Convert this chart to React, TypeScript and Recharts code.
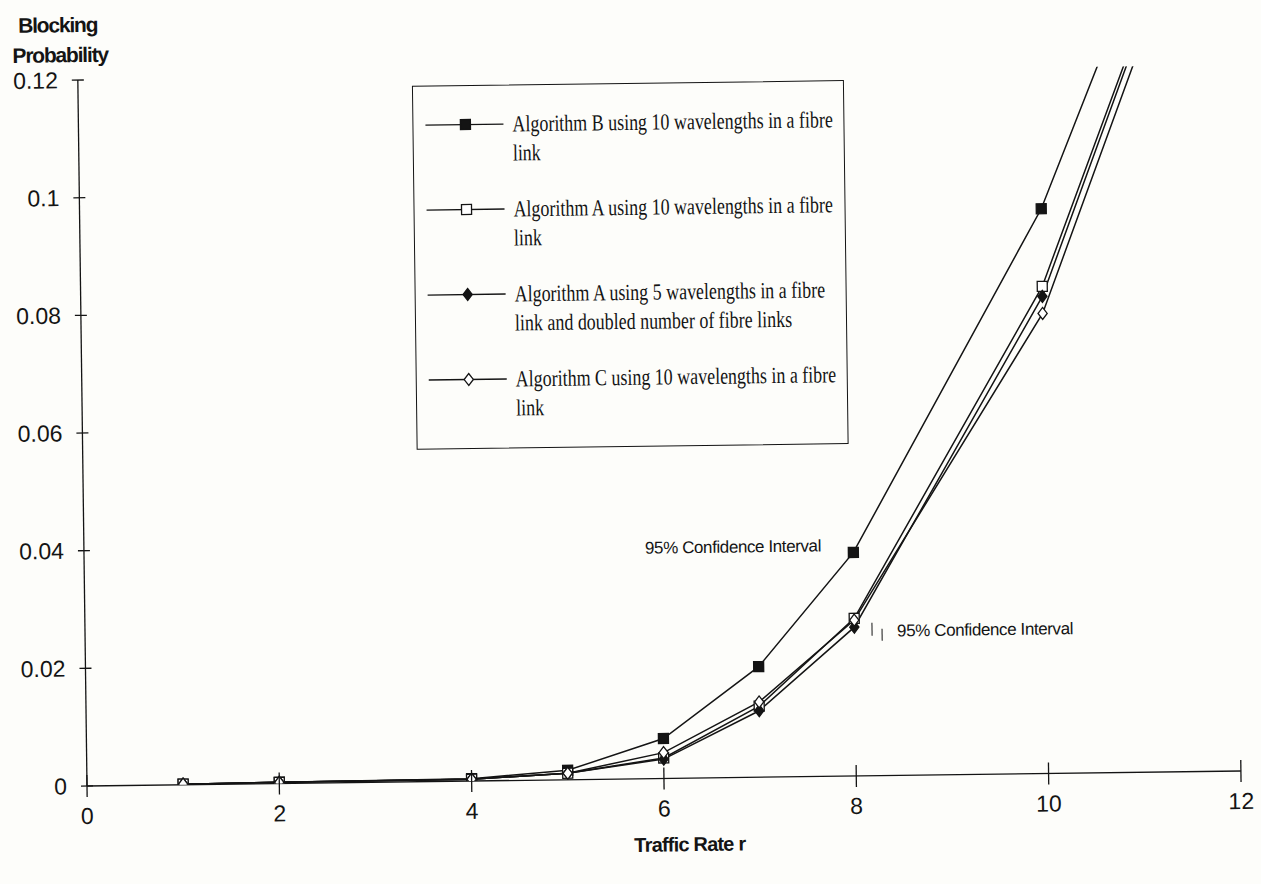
import { Legend, Line, LineChart, XAxis, YAxis } from "recharts";

// traffic rate r and blocking probability per algorithm
const trafficRate = [1, 2, 4, 5, 6, 7, 8, 10, 11];
const algorithmB10 = [0.0001, 0.0002, 0.0004, 0.0016, 0.0068, 0.0188, 0.038, 0.096, 0.136];
const algorithmA10 = [0.0001, 0.0002, 0.0003, 0.0011, 0.0035, 0.0121, 0.0268, 0.0828, 0.1254];
const algorithmA5 = [0.0001, 0.0002, 0.0003, 0.0011, 0.0033, 0.0113, 0.0253, 0.0811, 0.1242];
const algorithmC10 = [0.0001, 0.0002, 0.0003, 0.0011, 0.0044, 0.0128, 0.0265, 0.0782, 0.1213];

const xTicks = [0, 2, 4, 6, 8, 10, 12];
const yTicks = [0, 0.02, 0.04, 0.06, 0.08, 0.1, 0.12];

const INK = "#141414";
const PAPER = "#fdfdfa";

type Shape = "square" | "diamond";

const series: { key: string; label: string; shape: Shape; filled: boolean }[] = [
  { key: "b10", label: "Algorithm B using 10 wavelengths in a fibre\nlink", shape: "square", filled: true },
  { key: "a10", label: "Algorithm A using 10 wavelengths in a fibre\nlink", shape: "square", filled: false },
  { key: "a5", label: "Algorithm A using 5 wavelengths in a fibre\nlink and doubled number of fibre links", shape: "diamond", filled: true },
  { key: "c10", label: "Algorithm C using 10 wavelengths in a fibre\nlink", shape: "diamond", filled: false },
];

const data = trafficRate.map((r, i) => ({
  r,
  b10: algorithmB10[i],
  a10: algorithmA10[i],
  a5: algorithmA5[i],
  c10: algorithmC10[i],
}));

const sans = "'Liberation Sans', Arial, sans-serif";

function Marker({ cx, cy, shape, filled }: { cx?: number; cy?: number; shape: Shape; filled: boolean }) {
  if (cx == null || cy == null) return null;
  const fill = filled ? INK : "#ffffff";
  if (shape === "square") {
    return <rect x={cx - 5} y={cy - 5} width={10} height={10} fill={fill} stroke={INK} strokeWidth={1.3} />;
  }
  return (
    <polygon
      points={`${cx},${cy - 6} ${cx + 4.6},${cy} ${cx},${cy + 6} ${cx - 4.6},${cy}`}
      fill={fill}
      stroke={INK}
      strokeWidth={1.3}
    />
  );
}

function XTick({ x, y, payload }: any) {
  return (
    <g>
      <line x1={x} x2={x} y1={y - 11} y2={y + 11} stroke={INK} strokeWidth={1.3} />
      <text x={x} y={y + 38} textAnchor="middle" fill={INK} fontSize={23} fontFamily={sans}>
        {payload.value}
      </text>
    </g>
  );
}

function YTick({ x, y, payload }: any) {
  return (
    <g>
      <line x1={x - 6} x2={x + 6} y1={y} y2={y} stroke={INK} strokeWidth={1.3} />
      <text x={x - 20} y={y + 8} textAnchor="end" fill={INK} fontSize={23} fontFamily={sans}>
        {String(payload.value)}
      </text>
    </g>
  );
}

function LegendBox() {
  return (
    <div
      style={{
        position: "relative",
        width: 432,
        height: 364,
        boxSizing: "border-box",
        border: `1.5px solid ${INK}`,
        background: PAPER,
      }}
    >
      {series.map((s, i) => (
        <div key={s.key} style={{ position: "absolute", left: 0, top: 24 + 85 * i, width: 430, height: 60 }}>
          <svg width={100} height={29} style={{ position: "absolute", left: 0, top: 0 }}>
            <line x1={12} x2={90} y1={14.5} y2={14.5} stroke={INK} strokeWidth={1.3} />
            <Marker cx={52} cy={14.5} shape={s.shape} filled={s.filled} />
          </svg>
          <div
            style={{
              position: "absolute",
              left: 99,
              top: 0,
              fontFamily: "'Liberation Serif', 'Times New Roman', serif",
              fontSize: 23,
              lineHeight: "29px",
              whiteSpace: "pre",
              transform: "scaleX(0.78)",
              transformOrigin: "0 0",
              color: INK,
            }}
          >
            {s.label}
          </div>
        </div>
      ))}
    </div>
  );
}

export default function App() {
  return (
    <div
      style={{
        position: "absolute",
        left: 0,
        top: 0,
        width: 1261,
        height: 884,
        overflow: "hidden",
        background: PAPER,
      }}
    >
      {/* the scan is tilted a little; keep the plot origin fixed */}
      <div style={{ width: 1261, height: 884, transform: "rotate(-0.745deg)", transformOrigin: "87px 786px" }}>
        <LineChart width={1261} height={884} data={data} margin={{ top: 80, right: 20, bottom: 38, left: 7 }}>
          <XAxis
            dataKey="r"
            type="number"
            domain={[0, 12]}
            ticks={xTicks}
            interval={0}
            height={60}
            tickSize={0}
            tickMargin={0}
            tickLine={false}
            axisLine={{ stroke: INK, strokeWidth: 1.3 }}
            tick={<XTick />}
          />
          <YAxis
            type="number"
            domain={[0, 0.12]}
            ticks={yTicks}
            interval={0}
            allowDataOverflow
            width={80}
            tickSize={0}
            tickMargin={0}
            tickLine={false}
            axisLine={{ stroke: INK, strokeWidth: 1.3 }}
            tick={<YTick />}
          />
          <Legend
            layout="horizontal"
            verticalAlign="middle"
            align="center"
            wrapperStyle={{ left: 421, top: 90, width: 432, height: 364 }}
            content={() => <LegendBox />}
          />
          {series.map((s) => (
            <Line
              key={s.key}
              dataKey={s.key}
              name={s.label}
              type="linear"
              stroke={INK}
              strokeWidth={1.5}
              dot={(p: any) => (
                <Marker key={`${s.key}-${p.index}`} cx={p.cx} cy={p.cy} shape={s.shape} filled={s.filled} />
              )}
              activeDot={false}
              isAnimationActive={false}
            />
          ))}
          <text x={28} y={32} fontFamily={sans} fontWeight="bold" fontSize={21} letterSpacing={-1.2} fill={INK}>
            Blocking
          </text>
          <text x={22} y={62} fontFamily={sans} fontWeight="bold" fontSize={21} letterSpacing={-1.2} fill={INK}>
            Probability
          </text>
          <text
            x={689}
            y={859}
            textAnchor="middle"
            fontFamily={sans}
            fontWeight="bold"
            fontSize={20}
            letterSpacing={-0.8}
            fill={INK}
          >
            Traffic Rate r
          </text>
          <text x={648} y={561} fontFamily={sans} fontSize={17} letterSpacing={-0.4} fill={INK}>
            95% Confidence Interval
          </text>
          <line x1={874} x2={874} y1={633} y2={646} stroke={INK} strokeWidth={1} />
          <line x1={884} x2={884} y1={639} y2={651} stroke={INK} strokeWidth={1} />
          <text x={899} y={647} fontFamily={sans} fontSize={17} letterSpacing={-0.4} fill={INK}>
            95% Confidence Interval
          </text>
        </LineChart>
      </div>
    </div>
  );
}
